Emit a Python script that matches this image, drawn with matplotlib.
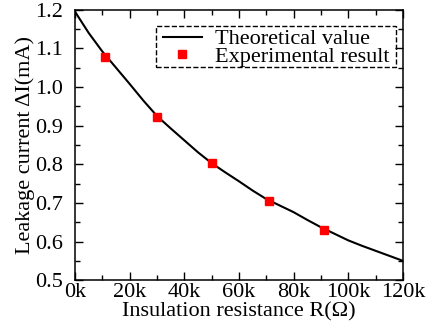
import numpy as np
import matplotlib
matplotlib.use('Agg')
import matplotlib.pyplot as plt
from matplotlib.ticker import MultipleLocator, FuncFormatter
from matplotlib.patches import Rectangle

## data
R_theory = [0, 5, 10, 15, 20, 25, 30, 35, 40, 45, 50, 55, 60, 65, 70, 75, 80, 85, 90, 95, 100, 105, 110, 115, 120]  # kOhm
I_theory = [1.195, 1.14, 1.092, 1.05, 1.008, 0.965, 0.925, 0.893, 0.862, 0.831, 0.803, 0.779, 0.756, 0.732, 0.71, 0.693, 0.676, 0.656, 0.637, 0.62, 0.603, 0.589, 0.576, 0.563, 0.55]
R_exp = [11, 30, 50, 71, 91]
I_exp = [1.079, 0.923, 0.803, 0.705, 0.630]

plt.rcParams['font.family'] = 'Liberation Serif'
plt.rcParams['font.size'] = 16
plt.rcParams['mathtext.fontset'] = 'stix'

fig = plt.figure(figsize=(4.29, 3.28), dpi=100)
ax = fig.add_axes([0.175, 0.146, 0.764, 0.824])

ax.plot(R_theory, I_theory, color='black', lw=1.5, label='Theoretical value')
ax.plot(R_exp, I_exp, 's', color='red', ms=5.7, mec='red', label='Experimental result')

ax.set_xlim(0, 120)
ax.set_ylim(0.5, 1.2)
ax.xaxis.set_major_locator(MultipleLocator(20))
ax.xaxis.set_minor_locator(MultipleLocator(10))
ax.yaxis.set_major_locator(MultipleLocator(0.1))
ax.yaxis.set_minor_locator(MultipleLocator(0.05))
ax.xaxis.set_major_formatter(FuncFormatter(lambda v, p: '%dk' % v))
ax.yaxis.set_major_formatter(FuncFormatter(lambda v, p: '%.1f' % v))
ax.tick_params(which='both', direction='in', top=True, right=True, width=1)
ax.tick_params(which='major', length=5.5, labelsize=16)
ax.tick_params(which='minor', length=3.5)
ax.tick_params(axis='x', pad=2)
ax.tick_params(axis='y', pad=8.5)
for s in ax.spines.values():
    s.set_linewidth(1.1)

ax.set_xlabel('Insulation resistance R(Ω)', fontsize=16, labelpad=0)
ax.set_ylabel('Leakage current ΔI(mA)', fontsize=16, labelpad=0)

# dashed legend box drawn separately so the padding can be tight
leg = ax.legend(loc='upper left', bbox_to_anchor=(0.268, 0.93), borderaxespad=0,
                frameon=False, fontsize=16, handlelength=1.75,
                borderpad=0, labelspacing=-0.12, handletextpad=0.6)
box = Rectangle((0.247, 0.790), 0.732, 0.151, transform=ax.transAxes, fill=False,
                edgecolor='black', linestyle='--', linewidth=1, zorder=5)
ax.add_patch(box)

plt.savefig('out.png', dpi=100)
